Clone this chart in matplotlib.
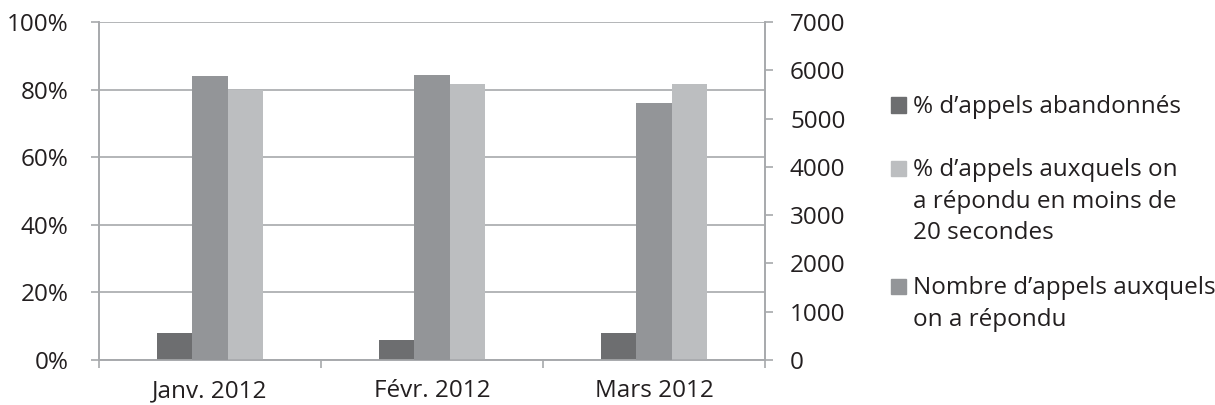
import matplotlib
matplotlib.use("Agg")
from matplotlib import pyplot as plt
from matplotlib.patches import Rectangle
import numpy as np

plt.rcParams['font.family'] = ['Open Sans', 'DejaVu Sans']

months = ["Janv. 2012", "Févr. 2012", "Mars 2012"]
pct_abandonnes = [8, 6, 8]
pct_moins_20s = [80, 81.8, 81.7]
nb_repondus = [5890, 5900, 5320]

c_dark = "#6d6e70"
c_mid = "#939598"
c_light = "#bcbec0"
grid_c = "#a7a9ac"
txt_c = "#231f20"
fs = 17.5

W, H = 1215, 405
fig = plt.figure(figsize=(W / 100, H / 100), dpi=100)
ax = fig.add_axes([99 / W, 45 / H, 666 / W, 338 / H])
ax2 = ax.twinx()

x = np.arange(len(months))
w = 0.16
ax.bar(x - w, pct_abandonnes, w, color=c_dark, zorder=3)
ax.bar(x + w, pct_moins_20s, w, color=c_light, zorder=3)
ax2.bar(x, nb_repondus, w, color=c_mid, zorder=3)

ax.set_xlim(-0.5, 2.5)
ax.set_ylim(0, 100)
ax2.set_ylim(0, 7000)
ax.set_yticks(range(0, 101, 20))
ax.set_yticklabels([f"{v}%" for v in range(0, 101, 20)])
ax2.set_yticks(range(0, 7001, 1000))
ax.set_xticks(x)
ax.set_xticklabels(months)
ax.set_xticks([-0.5, 0.5, 1.5, 2.5], minor=True)
ax.tick_params(axis='x', which='major', length=0, pad=14, labelsize=fs, labelcolor=txt_c)
ax.tick_params(axis='x', which='minor', length=6, color=grid_c, width=1.2)

ax.grid(axis='y', color=grid_c, linewidth=1.2, zorder=0)
ax.set_axisbelow(True)
for a in (ax, ax2):
    for s in a.spines.values():
        s.set_color(grid_c)
        s.set_linewidth(1.2)
    a.spines['top'].set_visible(False)
ax.tick_params(axis='y', length=6, color=grid_c, width=1.2, labelsize=fs, pad=16, labelcolor=txt_c)
ax2.tick_params(axis='y', length=6, color=grid_c, width=1.2, labelsize=fs, pad=12, labelcolor=txt_c)

# legend drawn by hand so the square sits on the first line of each label
leg_colors = [c_dark, c_light, c_mid]
leg_labels = ["% d’appels abandonnés",
              "% d’appels auxquels on\na répondu en moins de\n20 secondes",
              "Nombre d’appels auxquels\non a répondu"]
leg_baselines = [113, 176, 294]
for col, lab, yb in zip(leg_colors, leg_labels, leg_baselines):
    fig.patches.append(Rectangle((891 / W, 1 - (yb - 0.5) / H), 15 / W, 15 / H,
                                 transform=fig.transFigure, color=col))
    for i, line in enumerate(lab.split("\n")):
        fig.text(913 / W, 1 - (yb + i * 31.5) / H, line, fontsize=fs,
                 color=txt_c, va='baseline', ha='left')

fig.savefig("out.png", dpi=100)
